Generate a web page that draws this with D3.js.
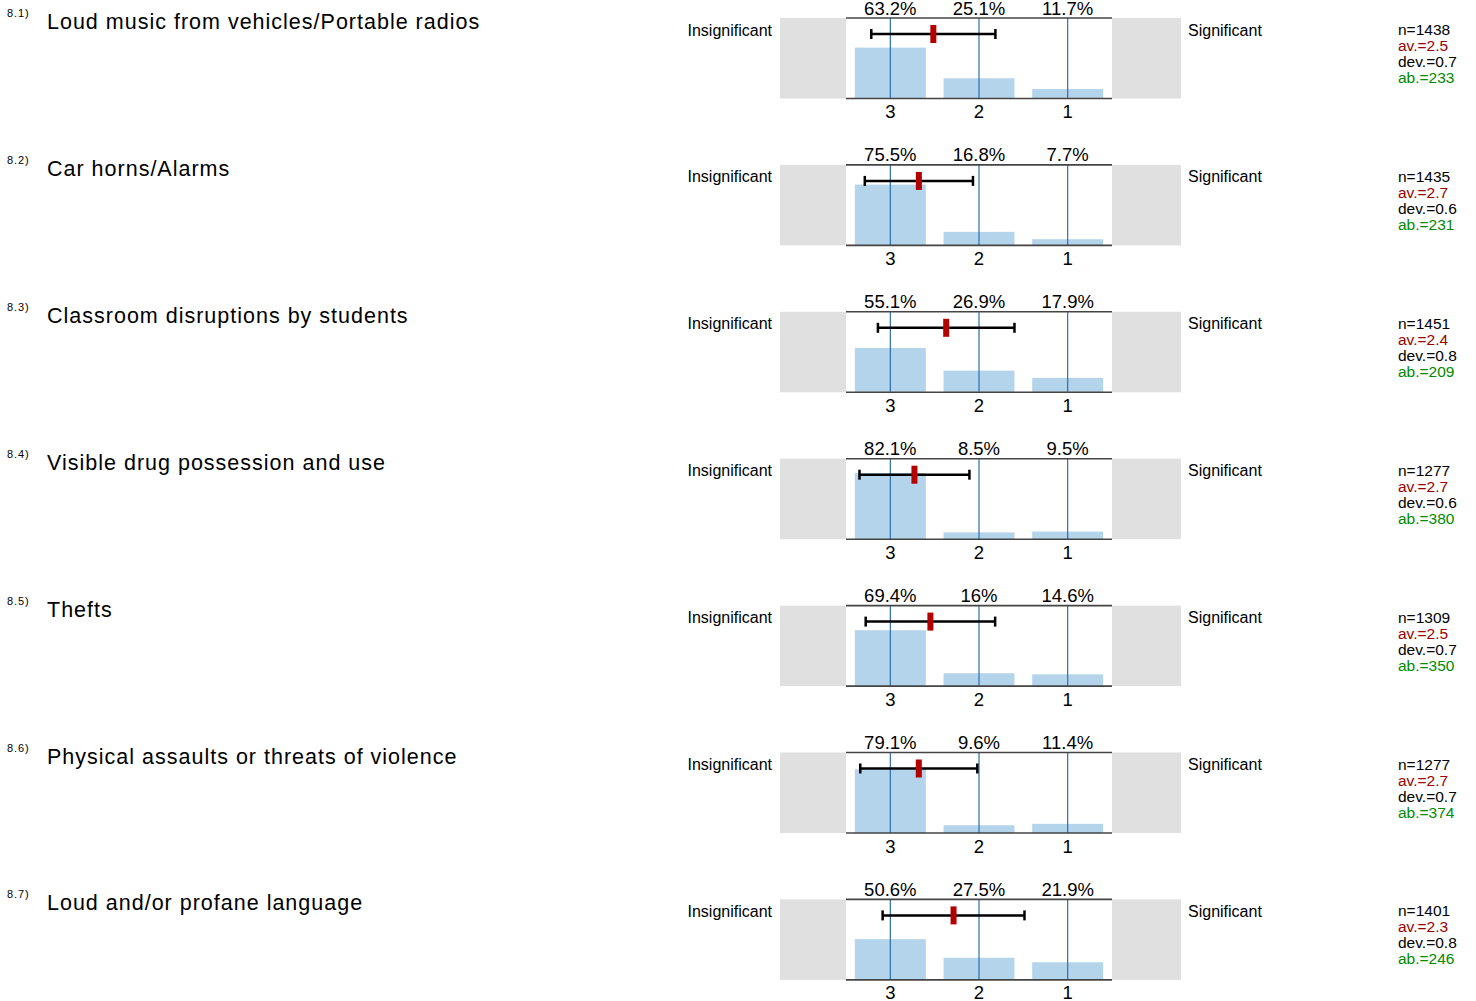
<!DOCTYPE html>
<html>
<head>
<meta charset="utf-8">
<script src="https://cdn.jsdelivr.net/npm/d3@7"></script>
<style>
  body { margin: 0; background: #fff; }
  text { font-family: Arial, 'Liberation Sans', sans-serif; }
</style>
</head>
<body>
<div id="chart"></div>
<script>
const codes = ['8.1)', '8.2)', '8.3)', '8.4)', '8.5)', '8.6)', '8.7)']
const questions = [
  'Loud music from vehicles/Portable radios',
  'Car horns/Alarms',
  'Classroom disruptions by students',
  'Visible drug possession and use',
  'Thefts',
  'Physical assaults or threats of violence',
  'Loud and/or profane language'
]
const categories = [3, 2, 1]
const pct3 = [63.2, 75.5, 55.1, 82.1, 69.4, 79.1, 50.6]
const pct2 = [25.1, 16.8, 26.9, 8.5, 16, 9.6, 27.5]
const pct1 = [11.7, 7.7, 17.9, 9.5, 14.6, 11.4, 21.9]
const nValues = [1438, 1435, 1451, 1277, 1309, 1277, 1401]
const means = [2.515, 2.678, 2.37, 2.728, 2.548, 2.679, 2.287]
const devs = [0.7, 0.61, 0.77, 0.62, 0.73, 0.66, 0.8]
const abstained = [233, 231, 209, 380, 350, 374, 246]
const leftLabel = 'Insignificant'
const rightLabel = 'Significant'

const width = 1476
const height = 1001

const svg = d3
  .select('#chart')
  .append('svg')
  .attr('width', width)
  .attr('height', height)

// panel top position by index
const rowScale = d3.scaleLinear().domain([0, 1]).range([18, 18 + 146.9])
const panelH = 80.5

const plotLeft = 846
const plotRight = 1112

const xBand = d3
  .scaleBand()
  .domain(categories)
  .range([plotLeft, plotRight])
  .paddingInner(0.2)
  .paddingOuter(0.1)

const xMean = d3
  .scaleLinear()
  .domain([3, 1])
  .range([xBand(3) + xBand.bandwidth() / 2, xBand(1) + xBand.bandwidth() / 2])

const yScale = d3.scaleLinear().domain([0, 100]).range([panelH, 0])

const fmt1 = d3.format('.1f')

const rows = questions.map((q, i) => ({
  code: codes[i],
  question: q,
  values: [
    { cat: 3, pct: pct3[i] },
    { cat: 2, pct: pct2[i] },
    { cat: 1, pct: pct1[i] }
  ],
  n: nValues[i],
  mean: means[i],
  dev: devs[i],
  ab: abstained[i]
}))

const panels = svg
  .selectAll('.panel')
  .data(rows)
  .enter()
  .append('g')
  .attr('class', 'panel')
  .attr('transform', (d, i) => 'translate(0,' + rowScale(i) + ')')

panels.each(function(d) {
  const g = d3.select(this)

  // titles
  g.append('text')
    .attr('x', 7)
    .attr('y', -1)
    .style('font-size', '11px')
    .style('letter-spacing', '0.9px')
    .attr('fill', '#000')
    .text(d.code)

  g.append('text')
    .attr('x', 47)
    .attr('y', 11)
    .style('font-size', '21.5px')
    .style('letter-spacing', '1px')
    .attr('fill', '#000')
    .text(d.question)

  // grey side boxes
  g.append('rect')
    .attr('x', 780)
    .attr('y', 0)
    .attr('width', plotLeft - 780)
    .attr('height', panelH)
    .attr('fill', '#e0e0e0')

  g.append('rect')
    .attr('x', plotRight)
    .attr('y', 0)
    .attr('width', 1181 - plotRight)
    .attr('height', panelH)
    .attr('fill', '#e0e0e0')

  g.append('text')
    .attr('x', 772)
    .attr('y', 17.5)
    .attr('text-anchor', 'end')
    .style('font-size', '16px')
    .text(leftLabel)

  g.append('text')
    .attr('x', 1188)
    .attr('y', 17.5)
    .style('font-size', '16px')
    .text(rightLabel)

  // bars
  g.selectAll('.bar')
    .data(d.values)
    .enter()
    .append('rect')
    .attr('x', v => xBand(v.cat))
    .attr('width', xBand.bandwidth())
    .attr('y', v => yScale(v.pct))
    .attr('height', v => panelH - yScale(v.pct))
    .attr('fill', '#b4d4eb')

  // category lines
  g.selectAll('.cat-line')
    .data(categories)
    .enter()
    .append('line')
    .attr('x1', c => xMean(c))
    .attr('x2', c => xMean(c))
    .attr('y1', 0)
    .attr('y2', panelH)
    .attr('stroke', '#2b6fad')
    .attr('stroke-width', 1.2)

  // top & bottom rules
  g.append('line')
    .attr('x1', plotLeft)
    .attr('x2', plotRight)
    .attr('y1', 0)
    .attr('y2', 0)
    .attr('stroke', '#444')
    .attr('stroke-width', 1.6)

  g.append('line')
    .attr('x1', plotLeft)
    .attr('x2', plotRight)
    .attr('y1', panelH)
    .attr('y2', panelH)
    .attr('stroke', '#444')
    .attr('stroke-width', 1.6)

  // percent labels
  g.selectAll('.pct')
    .data(d.values)
    .enter()
    .append('text')
    .attr('x', v => xMean(v.cat))
    .attr('y', -3.5)
    .attr('text-anchor', 'middle')
    .style('font-size', '18.5px')
    .text(v => v.pct + '%')

  // tick labels
  g.selectAll('.tick-label')
    .data(categories)
    .enter()
    .append('text')
    .attr('x', c => xMean(c))
    .attr('y', panelH + 19.5)
    .attr('text-anchor', 'middle')
    .style('font-size', '18.5px')
    .text(c => c)

  // error bar
  const ey = 16
  const lo = xMean(d.mean + d.dev)
  const hi = xMean(d.mean - d.dev)
  g.append('line')
    .attr('x1', lo)
    .attr('x2', hi)
    .attr('y1', ey)
    .attr('y2', ey)
    .attr('stroke', '#000')
    .attr('stroke-width', 2.5)
  ;[lo, hi].forEach(x => {
    g.append('line')
      .attr('x1', x)
      .attr('x2', x)
      .attr('y1', ey - 5)
      .attr('y2', ey + 5)
      .attr('stroke', '#000')
      .attr('stroke-width', 2.5)
  })
  g.append('rect')
    .attr('x', xMean(d.mean) - 3)
    .attr('y', ey - 9)
    .attr('width', 6)
    .attr('height', 18)
    .attr('fill', '#b30000')

  // stats
  const stats = [
    { t: 'n=' + d.n, c: '#000' },
    { t: 'av.=' + fmt1(d.mean), c: '#990000' },
    { t: 'dev.=' + fmt1(d.dev), c: '#000' },
    { t: 'ab.=' + d.ab, c: '#008a00' }
  ]
  g.selectAll('.stat')
    .data(stats)
    .enter()
    .append('text')
    .attr('x', 1398)
    .attr('y', (s, k) => 17 + k * 16)
    .style('font-size', '15.5px')
    .attr('fill', s => s.c)
    .text(s => s.t)
})
</script>
</body>
</html>
